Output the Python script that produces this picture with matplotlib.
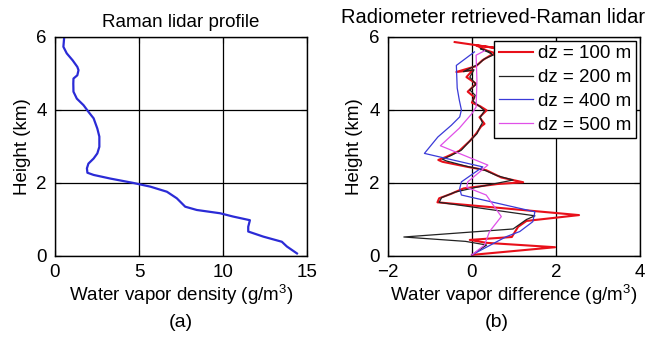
import matplotlib
matplotlib.use('Agg')
import matplotlib.pyplot as plt

plt.rcParams['font.family'] = ['Liberation Sans', 'DejaVu Sans']
plt.rcParams['font.size'] = 13.5
plt.rcParams['mathtext.default'] = 'regular'

# Raman lidar water vapor profile: density (g/m3) vs height (km)
lidar_density = [14.4, 13.8, 13.5, 12.4, 11.5, 11.5, 11.6, 10.6, 9.83, 8.44, 7.75,
                 7.25, 6.66, 5.67, 4.67, 3.3, 2.3, 1.93, 1.9, 1.99, 2.3, 2.52, 2.64,
                 2.64, 2.52, 2.3, 1.99, 1.7, 1.3, 1.1, 1.09, 1.1, 1.33, 1.4, 1.33,
                 1.05, 0.7, 0.5, 0.54]
lidar_height = [0.07, 0.26, 0.39, 0.53, 0.67, 0.80, 0.98, 1.08, 1.17, 1.26, 1.35,
                1.58, 1.76, 1.90, 2.00, 2.12, 2.22, 2.28, 2.40, 2.53, 2.67, 2.81,
                2.99, 3.27, 3.49, 3.77, 3.95, 4.13, 4.31, 4.50, 4.72, 4.86, 4.95,
                5.09, 5.18, 5.36, 5.55, 5.73, 5.95]

# radiometer retrieved minus Raman lidar, for each vertical resolution
diff_100_x = [0.0, 1.98, 0.35, -0.05, 0.95, 1.1, 1.3, 2.55, -0.82, -0.78, -0.5,
              -0.2, 0.6, 1.22, 0.7, 0.34, -0.1, -0.7, -0.8, -0.6, -0.3, -0.05,
              0.1, 0.22, 0.3, 0.18, 0.35, 0.2, 0.0, 0.06, -0.1, 0.1, -0.13, 0.02,
              -0.37, 0.1, 0.25, 0.45, 0.6, 0.35, 0.1, 0.55, -0.41]
diff_100_h = [0.03, 0.24, 0.36, 0.44, 0.52, 0.8, 0.96, 1.12, 1.47, 1.58, 1.7,
              1.85, 1.97, 2.02, 2.15, 2.35, 2.44, 2.58, 2.63, 2.72, 2.88, 3.15,
              3.35, 3.55, 3.62, 3.8, 3.99, 4.1, 4.2, 4.35, 4.5, 4.72, 4.9, 5.09,
              5.04, 5.2, 5.36, 5.5, 5.54, 5.63, 5.77, 5.7, 5.86]

diff_200_x = [0.0, 0.35, -0.15, -1.62, 0.98, 1.3, 1.5, -0.78, -0.72, -0.4, 0.1,
              0.98, 0.6, 0.3, -0.1, -0.6, -0.7, -0.5, -0.25, -0.05, 0.12, 0.2,
              0.25, 0.2, 0.3, 0.18, 0.02, 0.08, -0.05, 0.1, -0.05, 0.05, -0.2,
              0.15, 0.3, 0.5, 0.4, 0.2, 0.45]
diff_200_h = [0.03, 0.3, 0.4, 0.52, 0.74, 1.0, 1.1, 1.47, 1.6, 1.75, 1.88,
              2.08, 2.2, 2.35, 2.45, 2.6, 2.65, 2.75, 2.9, 3.15, 3.35, 3.55,
              3.65, 3.8, 3.98, 4.1, 4.25, 4.4, 4.55, 4.7, 4.9, 5.1, 5.05,
              5.25, 5.4, 5.5, 5.6, 5.68, 5.55]

diff_400_x = [0.0, 0.82, 1.14, 1.45, 1.5, -0.25, -0.29, -0.25, 0.26, -1.13,
              -0.81, -0.49, -0.29, -0.25, -0.3, -0.35, -0.37, 0.06]
diff_400_h = [0.03, 0.53, 0.67, 0.94, 1.21, 1.67, 1.85, 2.03, 2.44, 2.81,
              3.26, 3.58, 3.81, 4.0, 4.27, 4.6, 5.22, 5.59]

diff_500_x = [0.0, 0.3, 0.42, 0.7, 0.34, -0.12, -0.1, 0.38, -0.75, -0.3, 0.0,
              0.1, 0.12, 0.1, 0.3]
diff_500_h = [0.03, 0.3, 0.67, 1.08, 1.67, 1.88, 2.03, 2.49, 3.02, 3.5, 3.9,
              4.08, 4.8, 5.5, 5.62]


def style_axes(ax):
    ax.grid(True, color='black', lw=0.9, ls='-')
    ax.set_axisbelow(True)
    ax.tick_params(direction='in', top=True, right=True, length=4, pad=6,
                   labelsize=13.5)
    for s in ax.spines.values():
        s.set_linewidth(1.0)


fig = plt.figure(figsize=(6.53, 3.37), dpi=100)

ax1 = fig.add_axes([0.0842, 0.2404, 0.386, 0.650])
ax1.plot(lidar_density, lidar_height, color='#2b2bd6', lw=1.6)
ax1.set_xlim(0, 15)
ax1.set_ylim(0, 6)
ax1.set_xticks([0, 5, 10, 15])
ax1.set_yticks([0, 2, 4, 6])
ax1.set_xlabel('Water vapor density (g/m$^3$)', labelpad=1)
ax1.set_ylabel('Height (km)', labelpad=4)
ax1.set_title('Raman lidar profile', fontsize=13.5, pad=7)
style_axes(ax1)

ax2 = fig.add_axes([0.594, 0.2404, 0.386, 0.650])
ax2.plot(diff_100_x, diff_100_h, color='#e8101a', lw=1.5, label='dz = 100 m')
ax2.plot(diff_200_x, diff_200_h, color='#222222', lw=0.9, label='dz = 200 m')
ax2.plot(diff_400_x, diff_400_h, color='#3a3ad8', lw=0.9, label='dz = 400 m')
ax2.plot(diff_500_x, diff_500_h, color='#e050e8', lw=0.9, label='dz = 500 m')
ax2.set_xlim(-2, 4)
ax2.set_ylim(0, 6)
ax2.set_xticks([-2, 0, 2, 4])
ax2.set_xticklabels(['\u22122', '0', '2', '4'])
ax2.set_yticks([0, 2, 4, 6])
ax2.set_xlabel('Water vapor difference (g/m$^3$)', labelpad=1)
ax2.set_ylabel('Height (km)', labelpad=4)
style_axes(ax2)
leg = ax2.legend(loc='upper right', fontsize=13.5, frameon=True, fancybox=False,
                 edgecolor='black', framealpha=1, borderaxespad=0.2,
                 handlelength=1.8, handletextpad=0.3, labelspacing=0.35,
                 borderpad=0.25)
leg.get_frame().set_linewidth(1.0)

fig.text(0.755, 0.948, 'Radiometer retrieved-Raman lidar', ha='center',
         va='center', fontsize=14.5)
fig.text(0.277, 0.042, '(a)', ha='center', va='center', fontsize=14)
fig.text(0.761, 0.042, '(b)', ha='center', va='center', fontsize=14)

fig.savefig('out.png', dpi=100)
